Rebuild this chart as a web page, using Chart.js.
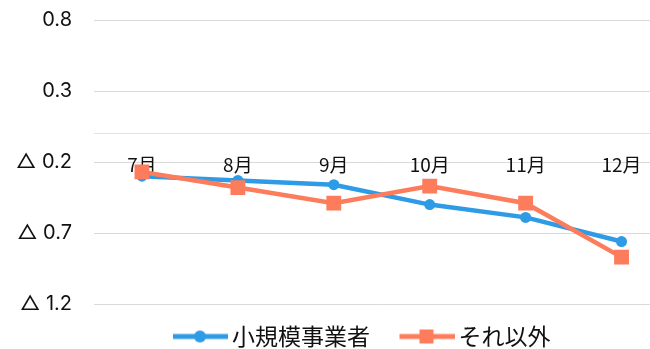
<!DOCTYPE html>
<html>
<head>
<meta charset="utf-8">
<script src="https://cdn.jsdelivr.net/npm/chart.js@4/dist/chart.umd.min.js"></script>
<style>
    html, body { margin: 0; padding: 0; background: #fff; overflow: hidden; }
    #wrap { width: 680px; height: 349px; }
</style>
</head>
<body>
<div id="wrap"><canvas id="trendChart" width="680" height="349"></canvas></div>
<script>
var months = ['7月', '8月', '9月', '10月', '11月', '12月'];
var smallBiz = [-0.30, -0.33, -0.36, -0.50, -0.59, -0.76];
var others = [-0.27, -0.38, -0.49, -0.37, -0.49, -0.87];
var yTicks = [-1.2, -0.7, -0.2, 0.3, 0.8];

var BLUE = '#2e9be6';
var ORANGE = '#fd7c5b';
var TEXT = '#111';
var FONT = "'Noto Sans CJK JP', 'Noto Sans', sans-serif";
var MINUS = '\u25B3 ';   // negative values are written with a triangle

// legend swatch: short line with the marker in the middle,
// left part kept empty so the text sits close to the line
function swatch(color, square) {
    var c = document.createElement('canvas');
    c.width = 71; c.height = 18;
    var g = c.getContext('2d');
    g.strokeStyle = color;
    g.lineWidth = 5;
    g.beginPath();
    g.moveTo(16, 9);
    g.lineTo(71, 9);
    g.stroke();
    g.fillStyle = color;
    if (square) {
        g.fillRect(36, 2, 14, 14);
    } else {
        g.beginPath();
        g.arc(43, 9, 6, 0, Math.PI * 2);
        g.fill();
    }
    return c;
}
var swatches = [swatch(BLUE, false), swatch(ORANGE, true)];

// nudge the legend a bit to the right of the canvas centre
var legendNudge = {
    id: 'legendNudge',
    afterLayout: function (chart) {
        chart.legend.left += 22;
        chart.legend.right += 22;
    }
};

document.addEventListener('DOMContentLoaded', function () {
    var ctx = document.getElementById('trendChart').getContext('2d');
    var trendChart = new Chart(ctx, {
        type: 'line',
        data: {
            labels: months,
            datasets: [{
                label: '小規模事業者',
                data: smallBiz,
                borderColor: BLUE,
                backgroundColor: BLUE,
                borderWidth: 4.5,
                pointStyle: 'circle',
                pointRadius: 5.5,
                pointBorderWidth: 0,
                order: 1
            }, {
                label: 'それ以外',
                data: others,
                borderColor: ORANGE,
                backgroundColor: ORANGE,
                borderWidth: 4.5,
                pointStyle: 'rect',
                pointRadius: 10.5,
                pointBorderWidth: 0,
                order: 0
            }]
        },
        plugins: [legendNudge],
        options: {
            responsive: false,
            animation: false,
            layout: {
                padding: { top: 20, right: 9, left: 0, bottom: 0 }
            },
            plugins: {
                tooltip: { enabled: false },
                legend: {
                    position: 'bottom',
                    maxHeight: 45,
                    labels: {
                        usePointStyle: true,
                        pointStyleWidth: 56,
                        boxHeight: 18,
                        padding: 21,
                        color: TEXT,
                        font: { family: FONT, size: 23 },
                        sort: function (a, b) { return a.datasetIndex - b.datasetIndex; },
                        generateLabels: function (chart) {
                            var items = Chart.defaults.plugins.legend.labels.generateLabels(chart);
                            items.forEach(function (it) {
                                it.pointStyle = swatches[it.datasetIndex];
                            });
                            return items;
                        }
                    }
                }
            },
            scales: {
                x: {
                    position: { y: 0 },
                    offset: true,
                    grid: { display: false, drawTicks: false },
                    border: { display: true, color: '#e2e2e2', width: 1 },
                    ticks: {
                        padding: 20,
                        color: TEXT,
                        font: { family: FONT, size: 19 },
                        maxRotation: 0
                    }
                },
                y: {
                    min: -1.2,
                    max: 0.8,
                    afterBuildTicks: function (axis) {
                        axis.ticks = yTicks.map(function (v) { return { value: v }; });
                    },
                    afterFit: function (axis) {
                        axis.width = 94;
                    },
                    // invisible tick marks keep the labels away from the plot
                    grid: { color: '#d9d9d9', lineWidth: 1, tickLength: 22, tickColor: 'rgba(0,0,0,0)' },
                    border: { display: false },
                    ticks: {
                        padding: 0,
                        color: TEXT,
                        font: { family: 'Inter, sans-serif', size: 20 },
                        callback: function (v) {
                            return v < 0 ? MINUS + Math.abs(v).toFixed(1) : v.toFixed(1);
                        }
                    }
                }
            }
        }
    });
});
</script>
</body>
</html>
